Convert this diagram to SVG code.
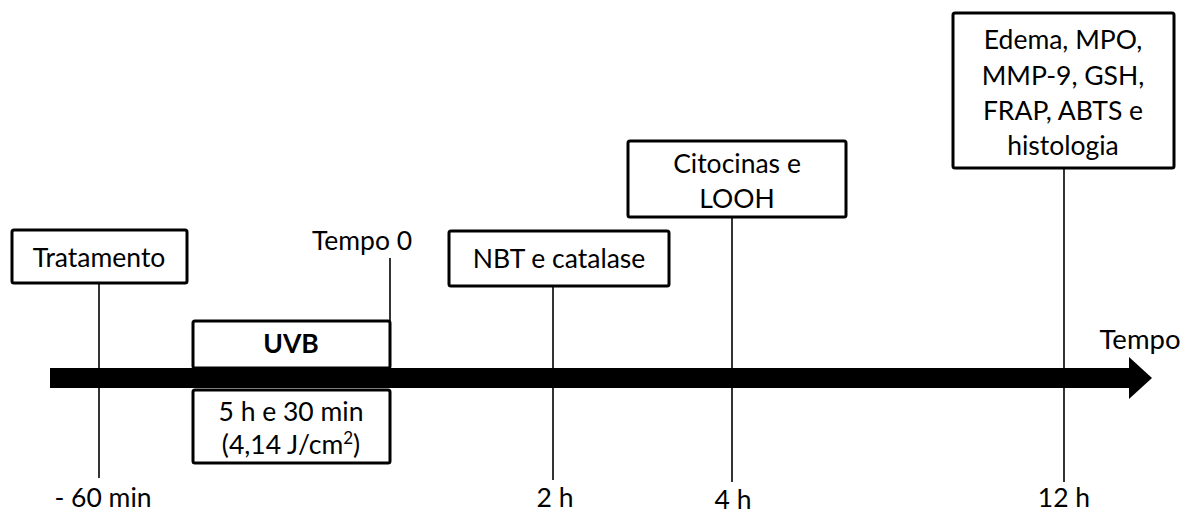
<svg xmlns="http://www.w3.org/2000/svg" width="1184" height="515" viewBox="0 0 1184 515">
<style>
.box{fill:#fff;stroke:#000;stroke-width:3;}
.tick{stroke:#000;stroke-width:1.6;fill:none;}
text{font-family:Lato,"Open Sans","Liberation Sans",sans-serif;font-size:26.5px;fill:#000;text-anchor:middle;}
.b{font-weight:bold;}
</style>
<rect width="1184" height="515" fill="#fff"/>
<g id="connectors">
<line class="tick" x1="99" y1="283" x2="99" y2="478"/>
<line class="tick" x1="390" y1="258" x2="390" y2="368"/>
<line class="tick" x1="553" y1="286" x2="553" y2="480"/>
<line class="tick" x1="732" y1="217" x2="732" y2="482"/>
<line class="tick" x1="1064" y1="168" x2="1064" y2="482"/>
</g>
<g id="uvb">
<rect class="box" x="193" y="321" width="197" height="47" rx="2"/>
<text class="b" x="291" y="353">UVB</text>
</g>
<g id="axis">
<rect x="50" y="368" width="1081" height="20" fill="#000"/>
<polygon points="1129,357 1152,378 1129,399" fill="#000"/>
<text x="1140" y="349" style="font-size:27.5px">Tempo</text>
</g>
<g id="uvb-duration">
<rect class="box" x="193" y="390" width="197" height="73" rx="2"/>
<text x="291" y="421">5 h e 30 min</text>
<text x="291" y="454">(4,14 J/cm<tspan font-size="17" dy="-10">2</tspan><tspan dy="10">)</tspan></text>
</g>
<g id="tratamento">
<rect class="box" x="12" y="230" width="175" height="53" rx="2"/>
<text x="99" y="267">Tratamento</text>
<text x="103" y="507">- 60 min</text>
</g>
<g id="tempo0">
<text x="362" y="250">Tempo 0</text>
</g>
<g id="nbt">
<rect class="box" x="449" y="231" width="220" height="55" rx="2"/>
<text x="559" y="268">NBT e catalase</text>
<text x="555" y="507">2 h</text>
</g>
<g id="citocinas">
<rect class="box" x="628" y="141" width="218" height="76" rx="2"/>
<text x="737" y="173">Citocinas e</text>
<text x="737" y="208">LOOH</text>
<text x="733" y="509">4 h</text>
</g>
<g id="edema">
<rect class="box" x="953" y="13" width="221" height="155" rx="2"/>
<text x="1063" y="49">Edema, MPO,</text>
<text x="1063" y="85">MMP-9, GSH,</text>
<text x="1063" y="120">FRAP, ABTS e</text>
<text x="1063" y="155">histologia</text>
<text x="1064" y="507">12 h</text>
</g>
</svg>
